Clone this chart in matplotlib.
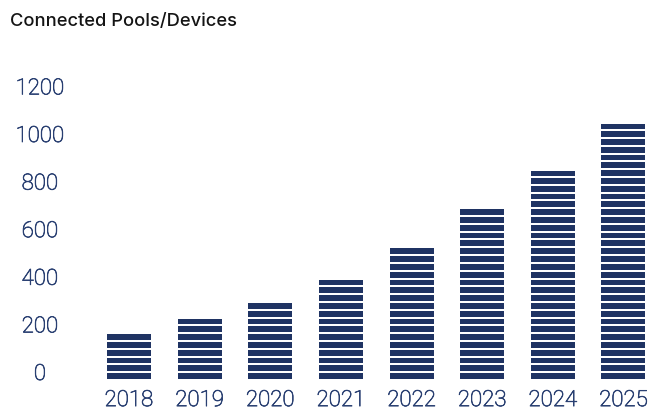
import numpy as np
import matplotlib
matplotlib.use("Agg")
import matplotlib.pyplot as plt
import matplotlib.patheffects as pe
from matplotlib.transforms import ScaledTranslation

# Data
years = ["2018", "2019", "2020", "2021", "2022", "2023", "2024", "2025"]
devices = [190, 255, 320, 420, 550, 715, 875, 1070]
y_ticks = [0, 200, 400, 600, 800, 1000, 1200]
title = "Connected Pools/Devices"

# Style
NAVY = "#1f3363"
LABEL = "#2a4072"
STRIPE_STEP = 32.8   # data units per stripe (bar + gap)
STRIPE_GAP = 8.4     # data units of white gap between stripes

W, H, DPI = 653, 412, 100
fig = plt.figure(figsize=(W / DPI, H / DPI), dpi=DPI)

# axes placed in pixel terms
left_px, right_px, bottom_px, top_px = 90, 650, 379, 80
ax = fig.add_axes([left_px / W, (H - bottom_px) / H,
                   (right_px - left_px) / W, (bottom_px - top_px) / H])

x = np.arange(len(years))
px_per_unit = 0.238
ymax = (bottom_px - top_px) / px_per_unit
xscale = 70.64
xmin = -(129 - left_px) / xscale
xmax = xmin + (right_px - left_px) / xscale

ax.bar(x, devices, width=0.623, color=NAVY, zorder=2, linewidth=0)

# white horizontal gaps that cut the bars into stripes
gap_centers = np.arange(STRIPE_STEP, ymax + STRIPE_STEP, STRIPE_STEP) - STRIPE_GAP / 2
gap_lw = STRIPE_GAP * px_per_unit * 72 / DPI
ax.hlines(gap_centers, xmin, xmax, colors="white", linewidth=gap_lw, zorder=3)

ax.set_xlim(xmin, xmax)
ax.set_ylim(0, ymax)

for s in ax.spines.values():
    s.set_visible(False)

font = dict(family="Roboto", weight="light", size=16)
thicken = [pe.withStroke(linewidth=0.5, foreground=LABEL)]

ax.set_xticks(x, years, color=LABEL, **font)
ax.set_yticks(y_ticks, [str(v) for v in y_ticks], color=LABEL, **font)
ax.tick_params(axis="both", length=0)
ax.tick_params(axis="x", pad=8)
ax.tick_params(axis="y", pad=36)

shift = ScaledTranslation(0, 7 / DPI, fig.dpi_scale_trans)
for lbl in ax.get_yticklabels():
    lbl.set_ha("center")
    lbl.set_transform(lbl.get_transform() + shift)
for lbl in ax.get_xticklabels() + ax.get_yticklabels():
    lbl.set_path_effects(thicken)

fig.text(10 / W, 1 - 22 / H, title, ha="left", va="center",
         family="Inter", weight="medium", size=13.2, color="#141414")

fig.savefig("out.png", dpi=DPI)
